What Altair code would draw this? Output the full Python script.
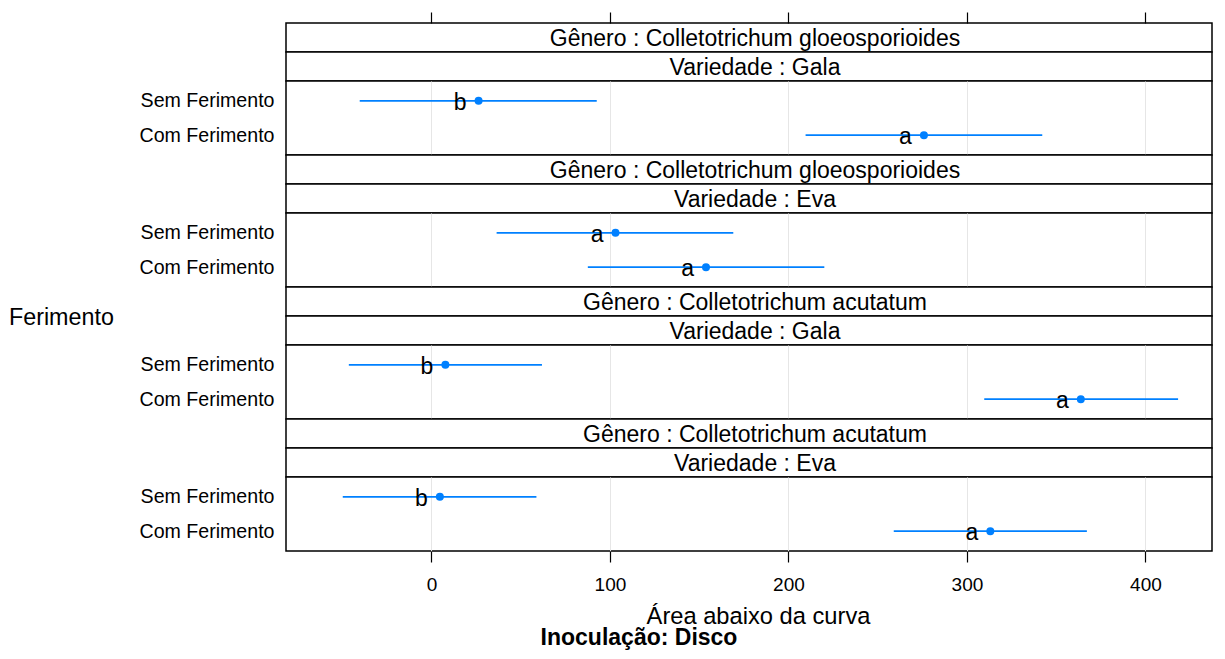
import altair as alt
import pandas as pd

# ---- data ----
genero = ["Colletotrichum gloeosporioides", "Colletotrichum gloeosporioides",
          "Colletotrichum acutatum", "Colletotrichum acutatum"]
variedade = ["Gala", "Eva", "Gala", "Eva"]
ferimento = ["Sem Ferimento", "Com Ferimento"]
media = [[26.4, 275.9], [103.1, 153.8], [7.8, 363.8], [4.7, 313.1]]
inferior = [[-40.2, 209.6], [36.5, 87.6], [-46.3, 309.7], [-49.7, 259.0]]
superior = [[92.6, 342.2], [169.1, 220.1], [61.9, 418.3], [58.8, 367.2]]
letras = [["b", "a"], ["a", "a"], ["b", "a"], ["b", "a"]]
x_ticks = [0, 100, 200, 300, 400]
x_titulo = "Área abaixo da curva"
y_titulo = "Ferimento"
subtitulo = "Inoculação: Disco"

# ---- layout / style ----
W = 926
HS = 29
HP = 74
AZUL = "#0080ff"
FONT = "Liberation Sans"
xscale = alt.Scale(domain=[-81.5, 437.3], nice=False, zero=False)


def strip(label, top_axis=False, extra=None):
    layers = [
        alt.Chart(pd.DataFrame({"rotulo": [label]}))
        .mark_text(fontSize=23, color="black", baseline="middle", align="center", font=FONT)
        .encode(text="rotulo:N", x=alt.value(W / 2 + 6), y=alt.value(HS / 2 + 1))
    ]
    if top_axis:
        layers.append(
            alt.Chart(pd.DataFrame({"tick": x_ticks}))
            .mark_point(opacity=0, size=1)
            .encode(x=alt.X("tick:Q", scale=xscale,
                            axis=alt.Axis(orient="top", values=x_ticks, labels=False,
                                          ticks=True, tickSize=11, tickColor="black",
                                          tickWidth=1.2, domain=False, grid=False,
                                          title=None)))
        )
    if extra is not None:
        layers.append(extra)
    return alt.layer(*layers).properties(width=W, height=HS)


def panel(i, last=False):
    df = pd.DataFrame({
        "Ferimento": ferimento,
        "media": media[i],
        "inferior": inferior[i],
        "superior": superior[i],
        "letra": letras[i],
    })
    if last:
        xaxis = alt.Axis(values=x_ticks, labels=True, ticks=True, tickSize=11,
                         tickColor="black", tickWidth=1.2, domain=False,
                         labelFontSize=19, labelColor="black", labelPadding=13,
                         labelFont=FONT, title=x_titulo, titleFontSize=23.7,
                         titleFontWeight="normal", titleColor="black", titleFont=FONT,
                         titleBaseline="alphabetic", titleY=72, titleX=W / 2 + 9,
                         grid=True, gridColor="#e6e6e6")
    else:
        xaxis = alt.Axis(values=x_ticks, labels=False, ticks=False, domain=False,
                         title=None, grid=True, gridColor="#e6e6e6")
    yaxis = alt.Axis(title=None, ticks=False, domain=False, labelFontSize=19.6,
                     labelColor="black", labelPadding=12, labelFont=FONT, grid=False)
    base = alt.Chart(df).encode(
        y=alt.Y("Ferimento:N", sort=ferimento,
                scale=alt.Scale(type="point", padding=0.58), axis=yaxis)
    )
    rule = base.mark_rule(color=AZUL, strokeWidth=1.6).encode(
        x=alt.X("inferior:Q", scale=xscale, axis=xaxis), x2="superior:Q")
    txt = base.mark_text(align="right", baseline="alphabetic", dx=-12, dy=9,
                         fontSize=23, color="black", font=FONT).encode(
        x="media:Q", text="letra:N")
    pts = base.mark_circle(color=AZUL, size=64, opacity=1).encode(x="media:Q")
    layers = [rule, txt, pts]
    if last:
        layers.append(
            alt.Chart(pd.DataFrame({"t": [subtitulo]}))
            .mark_text(fontWeight="bold", fontSize=23, align="center",
                       baseline="alphabetic", color="black", font=FONT)
            .encode(text="t:N", x=alt.value(353), y=alt.value(168))
        )
    return alt.layer(*layers).properties(width=W, height=HP)


charts = []
for i in range(4):
    extra = None
    if i == 2:
        extra = (alt.Chart(pd.DataFrame({"t": [y_titulo]}))
                 .mark_text(fontSize=23.3, align="left", baseline="middle",
                            color="black", font=FONT)
                 .encode(text="t:N", x=alt.value(-277), y=alt.value(31)))
    charts.append(strip("Gênero : " + genero[i], top_axis=(i == 0), extra=extra))
    charts.append(strip("Variedade : " + variedade[i]))
    charts.append(panel(i, last=(i == 3)))

chart = (
    alt.vconcat(*charts, spacing=0, bounds="flush")
    .properties(padding={"left": 0, "top": 2, "right": 0, "bottom": 0})
    .configure(font=FONT)
    .configure_view(stroke="black", strokeWidth=1.5, fill="white")
)

chart.save("out.html", embed_options={"renderer": "svg", "actions": False})
